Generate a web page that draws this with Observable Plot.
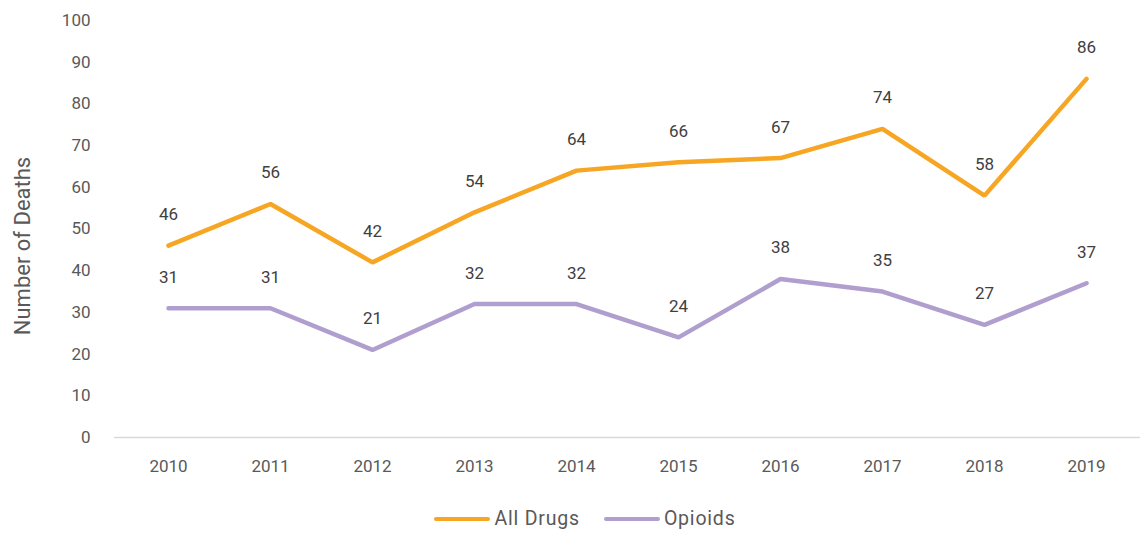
<!DOCTYPE html>
<html>
<head>
<meta charset="utf-8">
<script src="https://cdn.jsdelivr.net/npm/d3@7"></script>
<script src="https://cdn.jsdelivr.net/npm/@observablehq/plot@0.6"></script>
<style>
  body { margin: 0; background: #fff; font-family: Roboto, "Liberation Sans", sans-serif; }
  #legend { display: flex; justify-content: center; align-items: center; gap: 24px; margin-top: 17px; margin-left: 28px; font-size: 19.5px; letter-spacing: 0.8px; color: #595959; }
  .item { display: flex; align-items: center; }
  .sw { width: 56px; height: 4px; border-radius: 2px; margin-right: 4px; }
</style>
</head>
<body>
<div id="chart"></div>
<div id="legend"></div>
<script>
const years = ["2010","2011","2012","2013","2014","2015","2016","2017","2018","2019"];
const allDrugs = [46, 56, 42, 54, 64, 66, 67, 74, 58, 86];
const opioids = [31, 31, 21, 32, 32, 24, 38, 35, 27, 37];
const seriesNames = ["All Drugs", "Opioids"];
const seriesColors = ["#F6A623", "#B09FCE"];
const yTicks = [0, 10, 20, 30, 40, 50, 60, 70, 80, 90, 100];

const data = [];
years.forEach((y, i) => {
  data.push({year: y, series: seriesNames[0], value: allDrugs[i]});
  data.push({year: y, series: seriesNames[1], value: opioids[i]});
});

const chart = Plot.plot({
  width: 1142,
  height: 490,
  marginLeft: 114,
  marginRight: 2,
  marginTop: 20,
  marginBottom: 53,
  style: {fontFamily: "Roboto, 'Liberation Sans', sans-serif", fontSize: "17px", color: "#595959"},
  x: {type: "point", domain: years, padding: 0.5, label: null},
  y: {domain: [0, 100], ticks: yTicks, label: null},
  color: {domain: seriesNames, range: seriesColors},
  marks: [
    Plot.ruleY([0], {stroke: "#d9d9d9", strokeWidth: 1.5}),
    Plot.axisY({ticks: yTicks, tickSize: 0, tickPadding: 24, fill: "#595959", fontSize: 17, label: null}),
    Plot.axisX({tickSize: 0, tickPadding: 22, fill: "#595959", fontSize: 17, label: null}),
    Plot.text(["Number of Deaths"], {frameAnchor: "left", textAnchor: "middle", dx: -92, dy: 17, rotate: -90, fill: "#595959", fontSize: 22, letterSpacing: 1.1}),
    Plot.lineY(data, {x: "year", y: "value", z: "series", stroke: "series", strokeWidth: 4.5, strokeLinecap: "round", strokeLinejoin: "miter"}),
    Plot.text(data, {x: "year", y: "value", text: d => String(d.value), dy: -31, fill: "#404040", fontSize: 17})
  ]
});
document.getElementById("chart").appendChild(chart);

const legend = document.getElementById("legend");
seriesNames.forEach((n, i) => {
  const it = document.createElement("div");
  it.className = "item";
  const sw = document.createElement("div");
  sw.className = "sw";
  sw.style.background = seriesColors[i];
  const t = document.createElement("span");
  t.textContent = n;
  it.appendChild(sw); it.appendChild(t);
  legend.appendChild(it);
});
</script>
</body>
</html>
